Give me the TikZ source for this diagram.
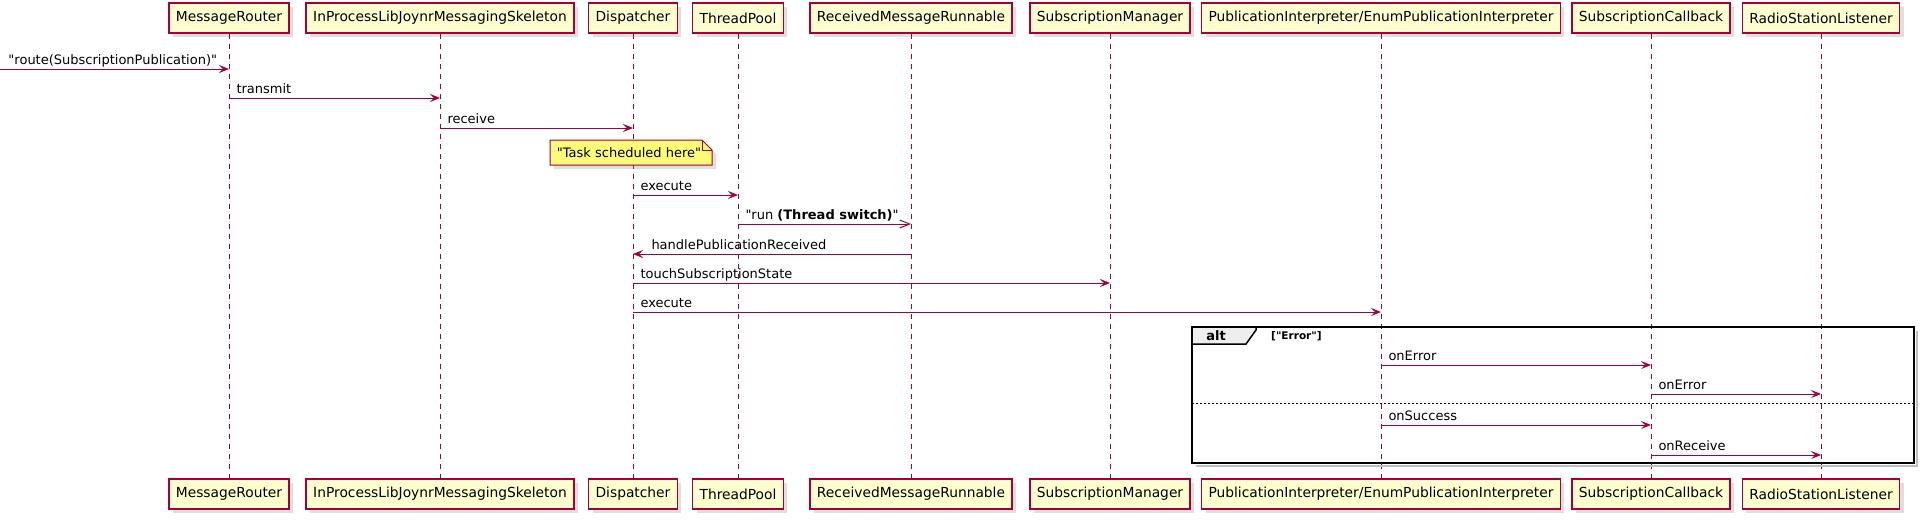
\documentclass[tikz,border=0pt]{standalone}
\usepackage{fontspec}
\setmainfont{DejaVu Sans}[Ligatures=TeXOff]
\usetikzlibrary{arrows.meta,shadows}

\definecolor{umlred}{HTML}{A80036}
\definecolor{umlbox}{HTML}{FEFECE}
\definecolor{umlnote}{HTML}{FBFB77}
\definecolor{umltab}{HTML}{EEEEEE}

\newcommand{\msgfont}{\fontsize{13}{15}\selectfont}
\newcommand{\partfont}{\fontsize{13.8}{16}\selectfont}

\begin{document}
\begin{tikzpicture}[x=1pt,y=-1pt,
  part/.style={draw=umlred,fill=umlbox,line width=1.5pt,minimum height=30pt,
    inner xsep=7pt,inner ysep=0pt,font=\partfont,
    drop shadow={shadow xshift=4pt,shadow yshift=-4pt,opacity=0.25}},
  lifeline/.style={draw=umlred,line width=1pt,dash pattern=on 5pt off 5pt},
  msg/.style={draw=umlred,line width=1pt,-{Stealth[length=10pt,width=8pt,inset=4pt]}},
  async/.style={draw=umlred,line width=1pt,-{Straight Barb[length=10pt,width=8pt]}},
  lbl/.style={anchor=base west,inner sep=0pt,font=\msgfont,xshift=7pt,yshift=5pt}]
  \useasboundingbox (0,0) rectangle (1923,520);

  % participants, top row
  \node[part] (mrT)  at (229,18)  {MessageRouter};
  \node[part] (ipT)  at (440,18)  {InProcessLibJoynrMessagingSkeleton};
  \node[part] (dpT)  at (633,18)  {Dispatcher};
  \node[part] (tpT)  at (738,18)  {ThreadPool};
  \node[part] (rmT)  at (911,18)  {ReceivedMessageRunnable};
  \node[part] (smT)  at (1110,18) {SubscriptionManager};
  \node[part] (piT)  at (1381,18) {PublicationInterpreter/EnumPublicationInterpreter};
  \node[part] (scT)  at (1651,18) {SubscriptionCallback};
  \node[part] (rlT)  at (1821,18) {RadioStationListener};
  % participants, bottom row
  \node[part] (mrB)  at (229,494)  {MessageRouter};
  \node[part] (ipB)  at (440,494)  {InProcessLibJoynrMessagingSkeleton};
  \node[part] (dpB)  at (633,494)  {Dispatcher};
  \node[part] (tpB)  at (738,494)  {ThreadPool};
  \node[part] (rmB)  at (911,494)  {ReceivedMessageRunnable};
  \node[part] (smB)  at (1110,494) {SubscriptionManager};
  \node[part] (piB)  at (1381,494) {PublicationInterpreter/EnumPublicationInterpreter};
  \node[part] (scB)  at (1651,494) {SubscriptionCallback};
  \node[part] (rlB)  at (1821,494) {RadioStationListener};

  % lifelines
  \draw[lifeline] (mrT.south) -- (mrB.north);
  \draw[lifeline] (ipT.south) -- (ipB.north);
  \draw[lifeline] (dpT.south) -- (dpB.north);
  \draw[lifeline] (tpT.south) -- (tpB.north);
  \draw[lifeline] (rmT.south) -- (rmB.north);
  \draw[lifeline] (smT.south) -- (smB.north);
  \draw[lifeline] (piT.south) -- (piB.north);
  \draw[lifeline] (scT.south) -- (scB.north);
  \draw[lifeline] (rlT.south) -- (rlB.north);

  % note
  \draw[draw=umlred,fill=umlnote,line width=1pt,
    drop shadow={shadow xshift=4pt,shadow yshift=-4pt,opacity=0.25}]
    (550,140) -- (702,140) -- (712,150) -- (712,165) -- (550,165) -- cycle;
  \draw[draw=umlred,line width=1pt] (702,140) -- (702,150) -- (712,150);
  \node[font=\msgfont,inner sep=0pt] (note) at (629,153) {"Task scheduled here"};

  % messages
  \coordinate (start) at (0,69);
  \draw[msg] (start) -- (mrT |- start) node[lbl,pos=0,xshift=1pt] {"route(SubscriptionPublication)"};
  \draw[msg] (mrT |- 0,98) -- (ipT |- 0,98) node[lbl,pos=0] {transmit};
  \draw[msg] (ipT |- 0,128) -- (dpT |- 0,128) node[lbl,pos=0] {receive};
  \draw[msg] (dpT |- 0,195) -- (tpT |- 0,195) node[lbl,pos=0] {execute};
  \draw[async] (tpT |- 0,224) -- (rmT |- 0,224) node[lbl,pos=0] {"run \textbf{(Thread switch)}"};
  \draw[msg] (rmT |- 0,254) -- (dpT |- 0,254) node[lbl,pos=1,xshift=11pt] {handlePublicationReceived};
  \draw[msg] (dpT |- 0,283) -- (smT |- 0,283) node[lbl,pos=0] {touchSubscriptionState};
  \draw[msg] (dpT |- 0,312) -- (piT |- 0,312) node[lbl,pos=0] {execute};

  % alt fragment
  \draw[black!25,line width=2pt] (1196,465.5) -- (1916.5,465.5) -- (1916.5,331);
  \draw[line width=1.5pt] (1192,327) rectangle (1914,463);
  \draw[line width=1.5pt,fill=umltab] (1192,327) -- (1256,327) -- (1256,330) -- (1246,344) -- (1192,344) -- cycle;
  \node[font=\msgfont\bfseries,inner sep=0pt] (alt) at (1216,336) {alt};
  \node[font=\fontsize{10.5}{13}\selectfont\bfseries,anchor=west,inner sep=0pt] (guard) at (1271,336) {["Error"]};
  \draw[line width=1pt,dash pattern=on 2pt off 2pt] (1192,403) -- (1914,403);

  \draw[msg] (piT |- 0,365) -- (scT |- 0,365) node[lbl,pos=0] {onError};
  \draw[msg] (scT |- 0,394) -- (rlT |- 0,394) node[lbl,pos=0] {onError};
  \draw[msg] (piT |- 0,425) -- (scT |- 0,425) node[lbl,pos=0] {onSuccess};
  \draw[msg] (scT |- 0,455) -- (rlT |- 0,455) node[lbl,pos=0] {onReceive};
\end{tikzpicture}
\end{document}
